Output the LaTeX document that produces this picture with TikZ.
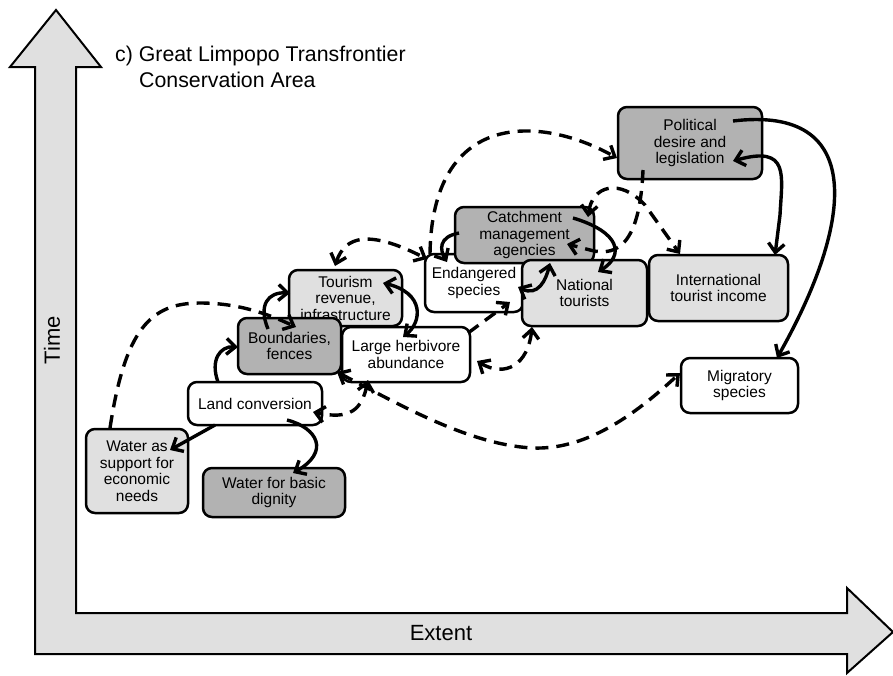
\documentclass[tikz,border=0pt]{standalone}
\usepackage{fontspec}
\setmainfont{Liberation Sans}
\usetikzlibrary{arrows.meta}
\definecolor{lightbox}{gray}{0.88}
\definecolor{darkbox}{gray}{0.70}
\definecolor{axisfill}{gray}{0.88}
\begin{document}
\begin{tikzpicture}[x=1pt,y=-1pt,
  >={Straight Barb[length=9pt,width=16pt]},
  box/.style={draw=black, line width=2.5pt, rounded corners=9pt, align=center,
              inner sep=0pt, font=\fontsize{15.5}{16.5}\selectfont},
  lbox/.style={box, fill=lightbox},
  dbox/.style={box, fill=darkbox},
  wbox/.style={box, fill=white},
  conn/.style={line width=3.4pt},
  dconn/.style={line width=3.4pt, dash pattern=on 13pt off 8pt},
  biglabel/.style={font=\fontsize{22}{24}\selectfont, inner sep=0pt},
  titlelabel/.style={font=\fontsize{21.3}{26}\selectfont, inner sep=0pt, anchor=base west}
]
\useasboundingbox (0,0) rectangle (893,675);

% axes (one L-shaped double arrow)
\draw[line width=2pt, fill=axisfill, line join=miter]
  (56,10) -- (101,67) -- (76,67) -- (76,613) -- (847,613) -- (847,588)
  -- (893,632) -- (847,673) -- (847,654) -- (35,654) -- (35,67) -- (10,67) -- cycle;
\node[biglabel, rotate=90] (time) at (52,340) {Time};
\node[biglabel] (extent) at (441,633) {Extent};

% title
\node[titlelabel] (title1) at (115,61) {c) Great Limpopo Transfrontier};
\node[titlelabel] (title2) at (139,87) {Conservation Area};

% boxes (drawing order gives the overlaps)
\node[lbox, minimum width=113pt, minimum height=56pt] (tour) at (345.5,298) {Tourism\\revenue,\\infrastructure};
\node[dbox, minimum width=103pt, minimum height=56pt] (bound) at (289.5,346) {Boundaries,\\fences};
\node[wbox, minimum width=128pt, minimum height=55pt] (herb) at (406,354.5) {Large herbivore\\abundance};
\node[wbox, minimum width=134pt, minimum height=43pt] (land) at (255,403.5) {Land conversion};
\node[lbox, minimum width=102pt, minimum height=84pt] (wecon) at (137,471) {Water as\\support for\\economic\\needs};
\node[dbox, minimum width=142pt, minimum height=49pt] (wdig) at (274,492.5) {Water for basic\\dignity};
\node[wbox, minimum width=98pt, minimum height=58pt] (endg) at (474,283) {Endangered\\species};
\node[dbox, minimum width=139pt, minimum height=56pt] (catch) at (524.5,235) {Catchment\\management\\agencies};
\node[lbox, minimum width=125pt, minimum height=66pt] (nat) at (584.5,293) {National\\tourists};
\node[lbox, minimum width=139pt, minimum height=66pt] (intl) at (718.5,288) {International\\tourist income};
\node[dbox, minimum width=144pt, minimum height=72pt] (pol) at (690,143) {Political\\desire and\\legislation};
\node[wbox, minimum width=117pt, minimum height=55pt] (migr) at (739.5,385.5) {Migratory\\species};

% solid connectors
\draw[conn, ->] ([shift={(43,-22)}]pol.center) .. controls (865,105) and (855,220) .. ([shift={(37.5,-27.5)}]migr.center);
\draw[conn, <->] ([shift={(43,18)}]pol.center) .. controls (790,145) and (782,175) .. (780,215) -- ([shift={(56.5,-33)}]intl.center);
\draw[conn, ->] ([shift={(48.5,-17)}]catch.center) .. controls (620,232) and (625,255) .. ([shift={(13.5,-21)}]nat.center);
\draw[conn, ->] ([shift={(-65.5,-2)}]catch.center) .. controls (438,237) and (440,250) .. ([shift={(-27,-21)}]endg.center);
\draw[conn, <->] ([shift={(44,4)}]endg.center) .. controls (538,297) and (546,280) .. ([shift={(25.5,28)}]catch.center);
\draw[conn, <->] ([shift={(37.5,-15)}]tour.center) .. controls (425,293) and (422,322) .. ([shift={(-3,-17.5)}]herb.center);
\draw[conn, ->] ([shift={(-21.5,-17)}]bound.center) .. controls (258,305) and (268,292) .. ([shift={(-55.5,-5)}]tour.center);
\draw[conn, ->] ([shift={(-37,-21.5)}]land.center) .. controls (210,360) and (220,346) .. ([shift={(-51.5,1)}]bound.center);
\draw[conn, ->] ([shift={(-40,21.5)}]land.center) -- ([shift={(33,-21)}]wecon.center);
\draw[conn, ->] ([shift={(32,16.5)}]land.center) .. controls (318,428) and (330,452) .. ([shift={(19,-19.5)}]wdig.center);

% dashed connectors
\draw[dconn, ->] ([shift={(-47,27)}]pol.center) .. controls (640,240) and (620,258) .. (590,250) -- ([shift={(42.5,9)}]catch.center);
\draw[dconn, <->] ([shift={(63.5,-18)}]catch.center) .. controls (592,185) and (620,178) .. (645,205) -- ([shift={(-38.5,-34)}]intl.center);
\draw[dconn, <->] ([shift={(-10.5,-32)}]tour.center) .. controls (345,235) and (370,230) .. ([shift={(-47,-24)}]endg.center);
\draw[dconn, ->] ([shift={(-44,-29)}]endg.center) .. controls (432,110) and (540,115) .. ([shift={(-73,15)}]pol.center);
\draw[dconn, ->] ([shift={(62,-21.5)}]herb.center) -- ([shift={(36,19)}]endg.center);
\draw[dconn, <->] ([shift={(-52.5,34)}]nat.center) .. controls (528,365) and (505,378) .. ([shift={(71,6.5)}]herb.center);
\draw[dconn, <->] ([shift={(-38,25.5)}]herb.center) .. controls (362,410) and (350,420) .. ([shift={(58,8.5)}]land.center);
\draw[dconn, <->] ([shift={(47.5,26)}]bound.center) .. controls (400,405) and (470,445) .. (533,448)
  .. controls (590,450) and (640,410) .. ([shift={(-59.5,-12.5)}]migr.center);
\draw[dconn, ->] ([shift={(-27,-43)}]wecon.center) .. controls (125,330) and (150,303) .. (200,303)
  .. controls (240,303) and (270,315) .. ([shift={(-49.5,29)}]tour.center);
\end{tikzpicture}
\end{document}
